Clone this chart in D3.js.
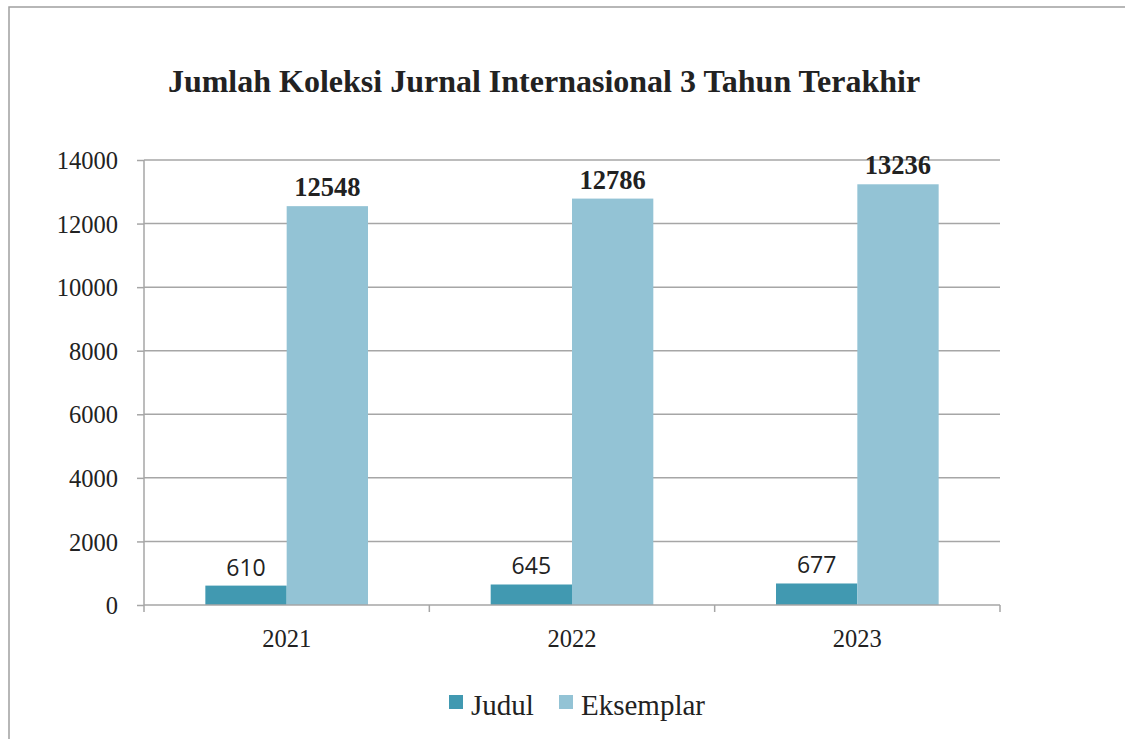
<!DOCTYPE html>
<html>
<head>
<meta charset="utf-8">
<script src="https://cdn.jsdelivr.net/npm/d3@7"></script>
<style>
    body { margin: 0; background: #fff; }
    .grid line { stroke: #a6a6a6; stroke-width: 1.5px; }
    .axis path, .axis line { stroke: #a6a6a6; stroke-width: 1.5px; }
</style>
</head>
<body>
<div id="chart"></div>
<script>
    var years = ["2021", "2022", "2023"];
    var series = ["Judul", "Eksemplar"];
    var judul = [610, 645, 677];
    var eksemplar = [12548, 12786, 13236];
    var yTicks = [0, 2000, 4000, 6000, 8000, 10000, 12000, 14000];
    var colors = ["#4199b1", "#93c3d5"];

    var serif = "'Liberation Serif', 'Times New Roman', serif";
    var width = 1125, height = 739;
    var margin = { top: 160, right: 125, bottom: 134, left: 144 };
    var innerW = width - margin.left - margin.right,
        innerH = height - margin.top - margin.bottom;

    var svg = d3.select("#chart").append("svg")
        .attr("width", width)
        .attr("height", height);

    // outer frame
    svg.append("rect")
        .attr("x", 9).attr("y", 7)
        .attr("width", 1130).attr("height", 750)
        .attr("fill", "none")
        .attr("stroke", "#a0a0a0")
        .attr("stroke-width", 1.5);

    svg.append("text")
        .attr("x", 544)
        .attr("y", 92)
        .attr("text-anchor", "middle")
        .style("font-family", serif)
        .style("font-weight", "bold")
        .style("font-size", "32px")
        .style("fill", "#222")
        .text("Jumlah Koleksi Jurnal Internasional 3 Tahun Terakhir");

    var g = svg.append("g")
        .attr("transform", "translate(" + margin.left + "," + margin.top + ")");

    var x0 = d3.scaleBand().domain(years).range([0, innerW]).paddingInner(0.43).paddingOuter(0.215);
    var x1 = d3.scaleBand().domain(series).range([0, x0.bandwidth()]);
    var y = d3.scaleLinear().domain([0, 14000]).range([innerH, 0]);

    // gridlines
    g.append("g").attr("class", "grid")
        .selectAll("line")
        .data(yTicks.slice(1))
        .enter().append("line")
        .attr("x1", 0).attr("x2", innerW)
        .attr("y1", function (d) { return y(d); })
        .attr("y2", function (d) { return y(d); });

    // y axis
    var yAxis = g.append("g").attr("class", "axis")
        .call(d3.axisLeft(y).tickValues(yTicks).tickSize(7).tickPadding(19).tickFormat(d3.format("d")));
    yAxis.select(".domain").attr("d", "M0," + innerH + "V0");
    yAxis.selectAll("text")
        .attr("dy", "0.35em")
        .style("font-family", serif)
        .style("font-size", "24.5px")
        .style("fill", "#222");

    // bars
    var groups = g.selectAll(".year")
        .data(years)
        .enter().append("g")
        .attr("transform", function (d) { return "translate(" + x0(d) + ",0)"; });

    groups.selectAll("rect")
        .data(function (d, i) { return [{ s: "Judul", v: judul[i] }, { s: "Eksemplar", v: eksemplar[i] }]; })
        .enter().append("rect")
        .attr("x", function (d) { return x1(d.s); })
        .attr("y", function (d) { return y(d.v); })
        .attr("width", x1.bandwidth())
        .attr("height", function (d) { return innerH - y(d.v); })
        .attr("fill", function (d, i) { return colors[i]; });

    groups.selectAll("text.lbl")
        .data(function (d, i) { return [{ s: "Judul", v: judul[i] }, { s: "Eksemplar", v: eksemplar[i] }]; })
        .enter().append("text")
        .attr("class", "lbl")
        .attr("x", function (d) { return x1(d.s) + x1.bandwidth() / 2; })
        .attr("y", function (d) { return y(d.v) - 10; })
        .attr("text-anchor", "middle")
        .style("font-family", function (d) { return d.s == "Judul" ? "'Open Sans', sans-serif" : serif; })
        .style("font-weight", function (d) { return d.s == "Judul" ? "normal" : "bold"; })
        .style("font-size", function (d) { return d.s == "Judul" ? "23px" : "26.5px"; })
        .style("fill", "#222")
        .text(function (d) { return d.v; });

    // x axis
    var step = innerW / years.length;
    var xa = g.append("g").attr("class", "axis")
        .attr("transform", "translate(0," + innerH + ")");
    xa.append("line").attr("x1", 0).attr("x2", innerW).attr("y1", 0).attr("y2", 0);
    xa.selectAll("line.tk")
        .data(d3.range(years.length + 1))
        .enter().append("line")
        .attr("class", "tk")
        .attr("x1", function (d) { return d * step; })
        .attr("x2", function (d) { return d * step; })
        .attr("y1", 0).attr("y2", 7);
    xa.selectAll("text")
        .data(years)
        .enter().append("text")
        .attr("x", function (d) { return x0(d) + x0.bandwidth() / 2; })
        .attr("y", 42)
        .attr("text-anchor", "middle")
        .style("font-family", serif)
        .style("font-size", "24.5px")
        .style("fill", "#222")
        .text(function (d) { return d; });

    // legend
    var legendX = [449, 559];
    var legend = svg.append("g");
    series.forEach(function (s, i) {
        legend.append("rect")
            .attr("x", legendX[i]).attr("y", 695)
            .attr("width", 14).attr("height", 14)
            .attr("fill", colors[i]);
        legend.append("text")
            .attr("x", legendX[i] + 22).attr("y", 715)
            .style("font-family", serif)
            .style("font-size", "29px")
            .style("fill", "#222")
            .text(s);
    });
</script>
</body>
</html>
